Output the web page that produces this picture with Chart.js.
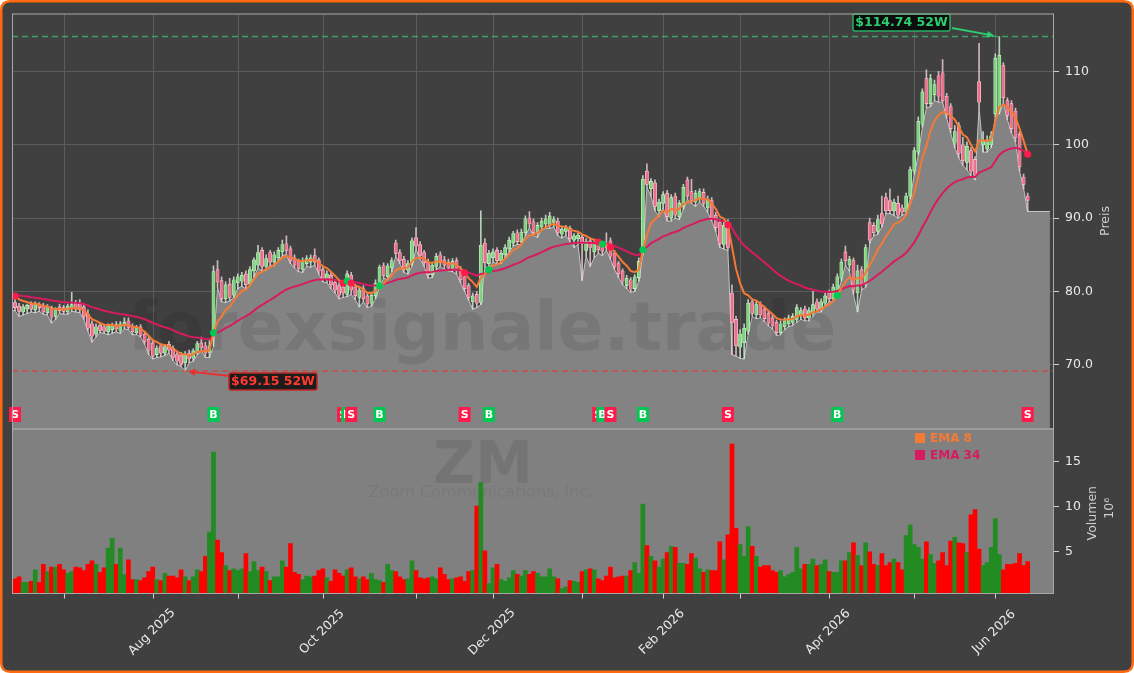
<!DOCTYPE html>
<html><head><meta charset="utf-8">
<script src="https://cdn.jsdelivr.net/npm/chart.js@4.4.1/dist/chart.umd.min.js"></script>
<style>html,body{margin:0;padding:0;background:#fff;}#wrap{width:1134px;height:673px;}</style>
</head><body><div id="wrap"><canvas id="c" width="1134" height="673"></canvas></div>
<script>
// ---------- data ----------
const opens = [78.5,78.0,77.2,77.6,78.2,77.5,78.3,78.0,77.1,77.8,76.6,77.9,77.8,77.2,77.7,78.4,78.3,77.9,76.9,75.6,
74.2,75.4,75.2,74.5,74.8,75.5,74.7,75.3,76.0,75.3,74.4,75.2,74.2,73.5,73.0,71.4,72.6,71.6,72.8,72.3,
71.4,71.3,70.3,71.6,70.9,71.8,73.0,72.6,71.7,74.5,83.0,81.5,79.0,81.0,79.5,81.2,81.4,82.4,81.0,82.8,
83.6,85.6,83.4,85.3,84.0,84.6,85.4,86.5,85.8,84.6,84.1,83.0,83.8,84.0,84.9,84.3,83.0,81.6,82.2,81.2,
80.8,80.6,79.6,82.2,80.6,79.2,80.4,79.4,78.4,79.4,81.0,83.5,82.0,83.2,86.6,85.3,84.4,82.9,83.9,87.3,
86.4,85.3,84.0,82.3,83.4,85.0,84.3,84.0,83.1,84.2,83.0,82.0,80.8,78.6,79.6,78.5,86.6,83.8,84.6,85.6,
84.2,85.0,85.8,86.6,88.0,86.8,88.0,90.0,89.5,87.9,88.8,89.2,89.0,89.4,89.6,87.8,88.2,88.6,87.0,87.2,
87.4,85.6,86.9,85.4,86.6,86.2,86.4,86.9,85.2,83.8,82.8,80.8,81.6,80.4,81.9,85.4,96.4,94.0,94.8,91.0,
92.0,93.4,90.0,93.0,90.2,91.6,95.2,93.6,92.2,92.8,93.5,91.4,92.4,90.4,89.4,86.4,89.4,79.8,76.2,72.4,
73.0,74.6,78.6,76.8,78.2,77.6,77.0,76.4,75.8,74.4,75.2,75.6,75.8,76.2,76.8,77.6,76.4,77.0,78.6,77.6,
78.4,79.8,79.0,80.2,81.8,85.4,83.6,84.2,79.8,83.0,81.0,89.4,89.0,88.2,90.6,92.8,92.4,91.0,92.0,91.4,
90.8,93.0,96.4,99.0,102.8,109.0,105.6,106.8,109.4,109.8,106.6,105.2,100.2,102.6,100.0,97.6,99.2,98.0,108.6,100.0,
99.4,100.0,104.2,104.6,110.8,106.0,105.6,104.6,101.4,95.6,93.0];
const highs = [79.0,78.4,78.2,78.3,78.6,78.6,78.5,78.4,78.2,78.0,77.8,78.3,78.1,78.3,79.9,78.8,78.9,78.3,77.5,76.0,
75.6,75.7,75.5,75.6,75.7,75.9,75.9,76.4,76.4,75.6,75.4,75.5,74.5,73.9,73.3,72.6,72.9,72.8,73.2,72.6,
71.8,71.7,71.8,72.0,72.2,73.2,73.8,73.1,73.4,83.5,84.2,82.0,81.3,81.8,82.0,82.4,82.6,82.8,83.4,84.6,
86.3,86.0,85.0,85.6,85.4,86.0,87.0,87.6,86.2,85.0,84.4,84.6,84.9,85.0,85.8,84.6,83.4,82.8,82.6,81.6,
81.2,81.0,82.8,82.6,81.0,80.6,80.8,79.8,79.8,81.6,83.6,83.9,83.8,84.6,87.0,85.7,84.8,84.2,87.3,88.7,
86.8,85.6,84.4,84.0,85.2,85.4,84.8,84.4,84.5,84.6,83.4,82.3,81.1,79.8,80.0,91.0,87.2,85.6,85.8,86.0,
85.6,86.4,87.4,88.2,88.4,88.5,90.3,90.9,89.9,89.4,90.0,90.4,90.8,90.2,90.0,88.9,89.0,88.9,87.9,88.0,
87.8,87.2,87.3,86.8,87.0,86.6,88.0,87.3,85.6,84.1,83.1,82.2,81.9,82.3,84.6,95.8,97.4,95.4,95.2,92.6,
93.6,93.8,93.2,93.4,92.4,94.6,95.6,95.3,93.8,94.0,94.0,93.0,92.8,90.8,89.8,89.6,89.8,80.9,76.6,74.8,
75.6,78.9,79.0,78.6,78.6,78.0,77.4,76.8,76.1,76.0,76.4,76.8,77.0,78.2,77.8,78.0,77.8,80.0,79.0,79.0,
79.8,80.2,81.0,82.4,84.4,86.2,84.8,84.6,83.6,83.4,86.4,90.0,89.4,90.4,93.0,93.4,94.0,92.6,93.0,91.8,
93.4,97.0,99.6,103.8,107.6,110.2,109.6,108.8,110.0,111.6,107.0,105.6,102.6,103.0,101.0,100.4,99.6,98.4,113.8,101.8,
101.2,101.8,112.4,114.74,111.2,106.4,106.0,105.0,101.8,96.0,93.4];
const lows = [77.4,76.6,76.8,77.0,77.2,77.1,77.3,76.9,76.8,75.7,76.2,77.0,76.9,76.9,77.3,77.2,77.1,76.2,74.6,73.1,
73.8,74.4,74.3,74.1,74.3,74.5,74.3,74.9,74.8,74.1,74.1,73.8,72.8,71.4,70.8,71.0,71.1,71.3,71.6,70.6,
70.0,69.8,69.15,70.3,70.5,71.4,71.9,71.0,71.0,72.5,80.6,78.6,78.5,78.7,79.2,80.4,80.7,80.4,80.8,82.0,
83.2,82.8,82.9,83.6,83.5,84.2,84.9,85.0,83.8,83.2,82.7,82.6,83.4,83.3,83.6,82.4,81.3,81.2,80.4,79.8,
79.0,79.2,79.3,79.6,78.9,77.9,78.6,77.8,78.0,79.0,80.6,81.8,81.6,82.7,84.8,83.8,82.6,82.4,83.5,85.8,
84.4,83.4,81.8,81.9,83.0,83.4,83.0,82.8,82.7,82.4,81.2,80.0,78.8,77.6,77.8,78.2,83.4,83.2,84.0,83.8,
83.8,84.6,85.4,86.2,86.4,86.4,87.6,88.7,87.6,87.4,88.4,88.6,88.6,88.8,87.6,87.3,87.6,86.8,86.0,86.4,
81.5,84.8,83.4,84.6,85.2,84.9,85.6,84.4,83.0,81.9,80.9,80.4,79.9,80.0,81.4,85.0,94.2,93.0,91.0,90.2,
91.4,89.6,89.6,90.0,89.8,91.2,92.6,92.0,91.6,92.2,91.6,90.8,89.6,88.2,86.0,85.8,85.6,71.4,71.2,70.9,
70.8,74.2,76.6,76.3,76.4,75.9,75.3,74.9,74.0,74.1,74.8,75.2,75.4,75.8,76.2,76.0,76.0,76.6,77.2,77.2,
78.0,78.6,78.6,79.8,81.4,83.6,82.8,79.6,77.2,80.2,80.6,86.6,87.6,87.8,88.8,90.6,90.6,90.4,90.0,90.4,
90.6,92.6,96.0,98.6,102.4,105.0,105.2,106.0,105.8,105.8,103.6,101.6,99.6,98.2,97.2,96.6,95.8,95.2,105.0,99.0,
99.0,99.6,103.8,104.2,105.8,103.4,101.6,100.4,96.4,94.0,90.9];
const closes = [77.8,77.3,77.9,78.1,77.6,78.3,77.8,77.2,77.9,76.5,77.5,77.4,77.3,78.0,78.2,77.6,77.5,76.6,75.0,73.9,
75.2,74.7,74.6,75.3,75.4,74.9,75.6,75.8,75.1,74.5,75.1,74.0,73.2,72.0,71.2,72.3,71.6,72.5,72.0,71.0,
70.5,70.1,71.4,70.8,71.9,72.9,72.3,71.6,72.6,82.7,81.3,79.0,80.9,79.2,81.6,82.0,82.2,80.9,83.0,84.3,
85.3,83.4,84.5,84.0,85.0,85.6,86.4,85.6,84.2,83.6,83.1,84.2,84.5,84.6,84.0,82.8,81.7,82.4,80.9,80.2,
79.5,79.8,82.4,80.2,79.4,80.2,79.0,78.3,79.5,81.1,83.3,82.2,83.5,84.2,85.2,84.2,83.0,83.8,86.9,86.2,
84.9,83.9,82.3,83.6,84.8,83.9,83.6,83.2,84.1,82.8,81.6,80.4,79.2,79.4,78.4,86.3,83.9,85.2,85.4,84.2,
85.2,86.0,87.0,87.9,86.8,88.1,89.9,89.2,88.0,89.0,89.6,89.9,90.3,89.8,88.0,88.5,88.7,87.2,87.6,87.7,
86.5,86.8,86.0,86.5,85.7,85.5,86.0,84.8,83.4,82.4,81.4,81.8,80.3,82.0,84.1,95.3,94.6,95.0,91.6,92.2,
93.2,90.2,92.8,90.4,92.0,94.2,93.0,92.4,93.4,93.6,92.0,92.6,90.0,88.7,86.5,89.0,86.0,75.8,72.6,74.2,
75.0,78.4,77.0,78.2,76.8,76.3,75.7,75.3,74.4,75.6,76.0,76.4,76.6,77.8,77.4,76.4,77.4,78.2,77.6,78.6,
79.4,79.0,80.6,82.0,84.0,84.2,84.4,80.2,82.8,80.8,86.0,87.0,88.0,89.8,89.2,91.0,91.0,92.2,90.4,90.8,
93.0,96.6,99.2,103.2,107.2,105.6,109.0,108.2,106.6,106.0,104.2,102.2,101.8,98.8,97.8,99.8,96.4,95.8,105.8,100.6,
100.4,101.2,111.8,112.2,106.4,104.0,102.2,101.0,97.0,94.6,92.4];
const volumes = [2.0,2.2,1.6,1.6,1.7,3.0,1.6,3.6,2.8,3.3,3.3,3.6,3.0,2.6,2.8,3.3,3.2,2.9,3.6,4.0,
3.6,2.7,3.2,5.4,6.5,3.6,5.4,2.5,4.1,1.9,1.9,1.8,2.1,2.8,3.3,1.9,1.8,2.6,2.3,2.3,
2.1,3.0,2.2,1.8,2.2,3.0,2.8,4.5,7.2,16.1,6.3,4.9,3.45,2.9,3.1,2.9,3.1,4.8,2.8,3.9,
2.9,3.3,2.8,1.8,2.2,2.2,4.0,3.3,5.9,2.7,2.5,1.9,2.3,2.2,2.3,2.9,3.1,2.1,1.7,3.0,
2.6,2.3,3.0,3.2,2.2,2.0,2.2,1.9,2.6,1.9,1.8,1.6,3.6,2.9,2.8,2.2,1.9,2.0,4.0,2.9,
2.1,2.0,2.1,2.2,2.0,3.2,2.5,1.9,2.0,2.1,2.2,1.7,2.8,2.9,10.1,12.7,5.1,1.45,3.2,3.6,
1.9,1.7,2.1,2.9,2.5,2.3,2.9,2.5,2.8,2.6,2.2,2.2,3.1,2.2,2.0,0.9,1.1,1.8,1.7,1.6,
2.8,3.0,3.1,3.0,2.0,1.8,2.3,3.3,2.1,2.2,2.3,2.3,2.9,3.8,2.6,10.3,5.7,4.5,4.0,3.3,
4.2,4.9,5.6,5.5,3.7,3.7,3.6,4.8,4.3,3.1,2.7,3.0,2.9,2.9,6.1,4.1,6.9,17.0,7.6,5.8,
4.5,7.8,5.6,4.5,3.3,3.45,3.45,2.9,2.7,2.9,2.2,2.5,2.7,5.5,3.1,3.6,3.6,4.2,3.45,3.6,
4.1,2.8,2.7,2.7,4.0,4.0,4.9,6.0,4.6,3.45,6.0,5.0,3.6,3.45,4.8,3.45,3.8,4.2,3.8,3.0,
6.8,8.0,5.8,5.5,4.2,6.1,4.7,3.7,4.0,4.9,3.45,6.2,6.6,6.0,5.9,4.9,9.1,9.7,5.3,3.45,
3.8,5.5,8.7,4.7,3.0,3.6,3.6,3.7,4.8,3.45,3.9];
const monthTickIdx = [12,34,55,76,99,118,140,160,179,201,222,242];
const monthTickLabels = ['','Aug 2025','','Oct 2025','','Dec 2025','','Feb 2026','','Apr 2026','','Jun 2026'];
const priceTicks = [70,80,90,100,110];
const priceTickLabels = ['70.0','80.0','90.0','100','110'];
const volumeTicks = [5,10,15];
const signalIdx  = [0,49,81,82,83,90,111,117,144,145,147,155,176,203,250];
const signalType = ['S','B','S','B','S','B','S','B','S','B','S','B','S','B','S'];
const high52 = 114.74, high52Idx = 243;
const low52 = 69.15, low52Idx = 42;
const ema8Start = 79.4, ema34Start = 79.6;

// ---------- derived ----------
function computeEMA(values, period, start) {
  const k = 2 / (period + 1); let prev = start;
  return values.map((v, i) => { prev = i === 0 ? start : prev + k * (v - prev); return prev; });
}
const ema8 = computeEMA(closes, 8, ema8Start);
const ema34 = computeEMA(closes, 34, ema34Start);
const N = closes.length;
const idx = closes.map((_, i) => i);
const isUp = idx.map(i => closes[i] >= opens[i]);
const X_MIN = -0.74, X_MAX = 256.5, X_AREA_END = 255.5;

const UP_FILL = '#7fd67f', UP_EDGE = '#d6f5d6', DN_FILL = '#ee6f8b', DN_EDGE = '#ffd3dc';
const UP_WICK = 'rgba(215,240,215,0.8)', DN_WICK = 'rgba(245,210,218,0.8)';
const EMA8_COL = '#f47a35', EMA34_COL = '#d81b60';
const SIG_G = '#00c853', SIG_R = '#ff1a4b';

const areaData = [{x: X_MIN, y: lows[0]}].concat(idx.map(i => ({x: i, y: lows[i]})));
areaData.push({x: X_AREA_END, y: lows[N - 1]});

function roundRect(ctx, x, y, w, h, r) {
  ctx.beginPath();
  ctx.moveTo(x + r, y); ctx.lineTo(x + w - r, y); ctx.quadraticCurveTo(x + w, y, x + w, y + r);
  ctx.lineTo(x + w, y + h - r); ctx.quadraticCurveTo(x + w, y + h, x + w - r, y + h);
  ctx.lineTo(x + r, y + h); ctx.quadraticCurveTo(x, y + h, x, y + h - r);
  ctx.lineTo(x, y + r); ctx.quadraticCurveTo(x, y, x + r, y); ctx.closePath();
}
function arrow(ctx, x1, y1, x2, y2, col, shrink) {
  const a = Math.atan2(y2 - y1, x2 - x1);
  x2 -= Math.cos(a) * shrink; y2 -= Math.sin(a) * shrink;
  ctx.strokeStyle = col; ctx.fillStyle = col; ctx.lineWidth = 1.8;
  ctx.beginPath(); ctx.moveTo(x1, y1); ctx.lineTo(x2 - Math.cos(a) * 6, y2 - Math.sin(a) * 6); ctx.stroke();
  ctx.beginPath(); ctx.moveTo(x2, y2);
  ctx.lineTo(x2 - Math.cos(a - 0.45) * 8, y2 - Math.sin(a - 0.45) * 8);
  ctx.lineTo(x2 - Math.cos(a + 0.45) * 8, y2 - Math.sin(a + 0.45) * 8);
  ctx.closePath(); ctx.fill();
}

const FONT = 'DejaVu Sans';
const decor = {
  id: 'decor',
  beforeDraw(chart) {
    const ctx = chart.ctx; ctx.save();
    ctx.fillStyle = '#404040'; roundRect(ctx, 1, 1, 1132, 671, 9); ctx.fill();
    ctx.restore();
  },
  beforeDatasetsDraw(chart) {
    const {ctx, chartArea, scales} = chart; const xs = scales.x, yp = scales.yp, yv = scales.yv;
    ctx.save();
    ctx.fillStyle = '#808080';
    ctx.fillRect(chartArea.left, yv.top, chartArea.right - chartArea.left, yv.bottom - yv.top);
    ctx.strokeStyle = '#5c5c5c'; ctx.lineWidth = 1;
    monthTickIdx.forEach(i => {
      const px = Math.round(xs.getPixelForValue(i)) + 0.5;
      ctx.beginPath(); ctx.moveTo(px, yp.top); ctx.lineTo(px, yp.bottom); ctx.stroke();
    });
    ctx.textAlign = 'center'; ctx.textBaseline = 'alphabetic';
    ctx.fillStyle = 'rgba(0,0,0,0.09)';
    ctx.font = 'bold 58px ' + FONT; ctx.fillText('ZM', 483, 483);
    ctx.fillStyle = 'rgba(0,0,0,0.06)';
    ctx.font = '16px ' + FONT; ctx.fillText('Zoom Communications, Inc.', 481, 497);
    ctx.restore();
  },
  afterDatasetDraw(chart, args) {
    if (args.index !== 0) return;
    const ctx = chart.ctx; ctx.save();
    ctx.fillStyle = 'rgba(0,0,0,0.09)'; ctx.textAlign = 'center'; ctx.textBaseline = 'alphabetic';
    ctx.font = 'bold 68px ' + FONT; ctx.fillText('forexsignale.trade', 482, 350);
    ctx.restore();
  },
  afterDatasetsDraw(chart) {
    const {ctx, chartArea, scales} = chart; const xs = scales.x, yp = scales.yp, yv = scales.yv;
    ctx.save();
    ctx.setLineDash([6, 4]); ctx.lineWidth = 1.5;
    ctx.strokeStyle = 'rgba(60,179,113,0.85)';
    let y = yp.getPixelForValue(high52);
    ctx.beginPath(); ctx.moveTo(chartArea.left, y); ctx.lineTo(chartArea.right, y); ctx.stroke();
    ctx.strokeStyle = 'rgba(214,69,65,0.85)';
    y = yp.getPixelForValue(low52);
    ctx.beginPath(); ctx.moveTo(chartArea.left, y); ctx.lineTo(chartArea.right, y); ctx.stroke();
    ctx.setLineDash([]);
    ctx.font = 'bold 11px ' + FONT; ctx.textAlign = 'center'; ctx.textBaseline = 'middle';
    signalIdx.forEach((si, k) => {
      const px = xs.getPixelForValue(si);
      ctx.fillStyle = signalType[k] === 'B' ? SIG_G : SIG_R;
      ctx.fillRect(px - 6, 407, 12, 15);
      ctx.fillStyle = '#ffffff'; ctx.fillText(signalType[k], px, 415);
    });
    const hx = xs.getPixelForValue(high52Idx), hy = yp.getPixelForValue(high52);
    arrow(ctx, 952, 28, hx, hy, '#2ecc71', 5);
    ctx.fillStyle = 'rgba(8,8,8,0.92)'; roundRect(ctx, 853, 14, 97, 17, 2); ctx.fill();
    ctx.strokeStyle = '#27ae60'; ctx.lineWidth = 1.5; roundRect(ctx, 853, 14, 97, 17, 2); ctx.stroke();
    ctx.fillStyle = '#2ecc71'; ctx.font = 'bold 12.5px ' + FONT; ctx.textAlign = 'center'; ctx.textBaseline = 'middle';
    ctx.fillText('$114.74 52W', 901.5, 23);
    const lx = xs.getPixelForValue(low52Idx), ly = yp.getPixelForValue(low52);
    arrow(ctx, 230, 376, lx, ly, '#e8302f', 3);
    ctx.fillStyle = 'rgba(20,20,20,0.92)'; roundRect(ctx, 229, 373, 88, 17, 2); ctx.fill();
    ctx.strokeStyle = '#c0282a'; ctx.lineWidth = 1.5; roundRect(ctx, 229, 373, 88, 17, 2); ctx.stroke();
    ctx.fillStyle = '#ff3b30'; ctx.fillText('$69.15 52W', 273, 382);
    ctx.textAlign = 'left'; ctx.font = 'bold 12px ' + FONT;
    ctx.fillStyle = EMA8_COL; ctx.fillRect(915, 433, 10, 10); ctx.fillText('EMA 8', 930, 438.5);
    ctx.fillStyle = EMA34_COL; ctx.fillRect(915, 450, 10, 10); ctx.fillText('EMA 34', 930, 455.5);
    ctx.strokeStyle = '#a8a8a8'; ctx.lineWidth = 1;
    ctx.strokeRect(chartArea.left + 0.5, yp.top + 0.5, chartArea.right - chartArea.left - 1, yp.bottom - yp.top);
    ctx.strokeRect(chartArea.left + 0.5, yv.top + 0.5, chartArea.right - chartArea.left - 1, yv.bottom - yv.top - 1);
    ctx.strokeStyle = '#d0d0d0'; ctx.fillStyle = '#e8e8e8'; ctx.font = '12.5px ' + FONT;
    ctx.textAlign = 'center'; ctx.textBaseline = 'middle';
    monthTickIdx.forEach((ti, k) => {
      const px = Math.round(xs.getPixelForValue(ti)) + 0.5;
      ctx.beginPath(); ctx.moveTo(px, yv.bottom); ctx.lineTo(px, yv.bottom + 4.5); ctx.stroke();
      if (monthTickLabels[k]) {
        ctx.save(); ctx.translate(px - 1.5, 632); ctx.rotate(-Math.PI / 4);
        ctx.fillText(monthTickLabels[k], 0, 0); ctx.restore();
      }
    });
    ctx.fillStyle = '#cfcfcf'; ctx.font = '12.5px ' + FONT;
    ctx.save(); ctx.translate(1106, (yp.top + yp.bottom) / 2); ctx.rotate(-Math.PI / 2); ctx.fillText('Preis', 0, 0); ctx.restore();
    ctx.save(); ctx.translate(1093, (yv.top + yv.bottom) / 2 + 2); ctx.rotate(-Math.PI / 2); ctx.fillText('Volumen', 0, 0); ctx.restore();
    ctx.save(); ctx.translate(1110, (yv.top + yv.bottom) / 2 - 3); ctx.rotate(-Math.PI / 2); ctx.fillText('10\u2076', 0, 0); ctx.restore();
    ctx.restore();
  },
  afterDraw(chart) {
    const ctx = chart.ctx; ctx.save();
    ctx.strokeStyle = '#ff6a10'; ctx.lineWidth = 2.5; roundRect(ctx, 1.25, 1.25, 1131.5, 670.5, 9); ctx.stroke();
    ctx.restore();
  }
};

Chart.defaults.font.family = FONT;
new Chart(document.getElementById('c'), {
  data: {
    datasets: [
      { type: 'line', label: 'area', data: areaData, yAxisID: 'yp', xAxisID: 'x', fill: 'start',
        backgroundColor: '#838383', borderColor: 'rgba(205,205,205,0.9)', borderWidth: 1, pointRadius: 0, tension: 0, order: 20 },
      { type: 'bar', label: 'wick', data: idx.map(i => ({x: i, y: [lows[i], highs[i]]})), yAxisID: 'yp', xAxisID: 'x',
        grouped: false, barThickness: 1, backgroundColor: idx.map(i => isUp[i] ? UP_WICK : DN_WICK), borderWidth: 0, order: 15 },
      { type: 'bar', label: 'body', data: idx.map(i => ({x: i, y: [opens[i], closes[i]]})), yAxisID: 'yp', xAxisID: 'x',
        grouped: false, barThickness: 3.2, backgroundColor: idx.map(i => isUp[i] ? UP_FILL : DN_FILL),
        borderColor: idx.map(i => isUp[i] ? UP_EDGE : DN_EDGE), borderWidth: 0.6, borderSkipped: false, order: 14 },
      { type: 'bar', label: 'volume', data: idx.map(i => ({x: i, y: volumes[i]})), yAxisID: 'yv', xAxisID: 'x',
        grouped: false, barPercentage: 1, categoryPercentage: 1, base: 0.3,
        backgroundColor: idx.map(i => isUp[i] ? '#228b22' : '#ff0000'), borderWidth: 0, order: 16 },
      { type: 'line', label: 'EMA 34', data: idx.map(i => ({x: i, y: ema34[i]})), yAxisID: 'yp', xAxisID: 'x',
        borderColor: EMA34_COL, borderWidth: 2, pointRadius: 0, fill: false, tension: 0, order: 6 },
      { type: 'line', label: 'EMA 8', data: idx.map(i => ({x: i, y: ema8[i]})), yAxisID: 'yp', xAxisID: 'x',
        borderColor: EMA8_COL, borderWidth: 2, pointRadius: 0, fill: false, tension: 0, order: 5 },
      { type: 'line', label: 'signals', data: signalIdx.map(i => ({x: i, y: ema8[i]})), yAxisID: 'yp', xAxisID: 'x',
        showLine: false, pointRadius: 3.5, pointBorderWidth: 0,
        pointBackgroundColor: signalType.map(t => t === 'B' ? SIG_G : SIG_R), order: 1 }
    ]
  },
  options: {
    responsive: false, animation: false, devicePixelRatio: 1,
    layout: { padding: { left: 12, top: 12, right: 0, bottom: 79 } },
    plugins: { legend: { display: false }, tooltip: { enabled: false } },
    scales: {
      x: { type: 'linear', display: false, offset: false, min: X_MIN, max: X_MAX },
      yp: { type: 'linear', position: 'right', stack: 'y', stackWeight: 416, min: 61.34, max: 117.88,
        afterFit: s => { s.width = 80; },
        afterBuildTicks: s => { s.ticks = priceTicks.map(v => ({value: v})); },
        ticks: { color: '#e8e8e8', font: { size: 12.5 }, padding: 6,
          callback: v => priceTickLabels[priceTicks.indexOf(v)] },
        grid: { color: '#5c5c5c', tickColor: '#d0d0d0', tickLength: 5, drawTicks: true },
        border: { display: false } },
      yv: { type: 'linear', position: 'right', stack: 'y', stackWeight: 166, min: 0.3, max: 18.73,
        afterFit: s => { s.width = 80; },
        afterBuildTicks: s => { s.ticks = volumeTicks.map(v => ({value: v})); },
        ticks: { color: '#e8e8e8', font: { size: 12.5 }, padding: 6, callback: v => String(v) },
        grid: { color: 'rgba(0,0,0,0)', tickColor: '#d0d0d0', tickLength: 5, drawTicks: true },
        border: { display: false } }
    }
  },
  plugins: [decor]
});
</script>
</body></html>
